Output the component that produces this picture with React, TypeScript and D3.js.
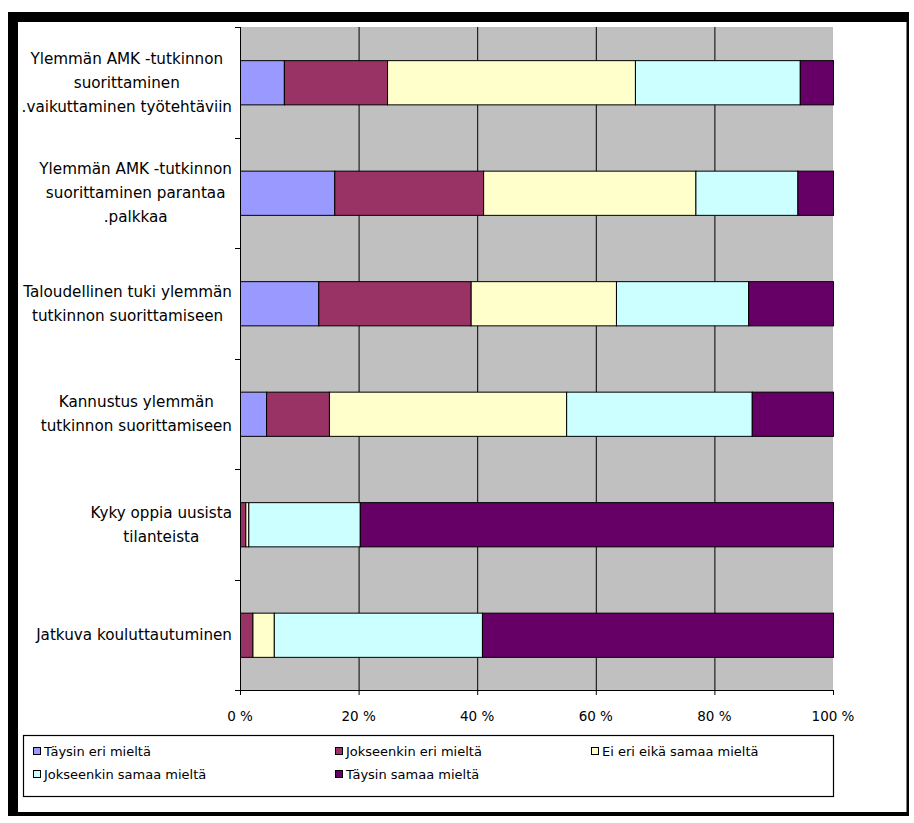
import React, { useEffect, useRef } from "react";
import * as d3 from "d3";

const categories: string[][] = [
  ["Ylemmän AMK -tutkinnon", "suorittaminen", ".vaikuttaminen työtehtäviin"],
  ["Ylemmän AMK -tutkinnon", "suorittaminen parantaa", ".palkkaa"],
  ["Taloudellinen tuki ylemmän", "tutkinnon suorittamiseen"],
  ["Kannustus ylemmän", "tutkinnon suorittamiseen"],
  ["Kyky oppia uusista", "tilanteista"],
  ["Jatkuva kouluttautuminen"],
];

const seriesNames = [
  "Täysin eri mieltä",
  "Jokseenkin eri mieltä",
  "Ei eri eikä samaa mieltä",
  "Jokseenkin samaa mieltä",
  "Täysin samaa mieltä",
];

const taysinEri = [7.4, 15.9, 13.2, 4.4, 0, 0];
const jokseenkinEri = [17.4, 25.1, 25.7, 10.6, 0.9, 2.1];
const eiEriEikaSamaa = [41.8, 35.8, 24.5, 40.0, 0.5, 3.6];
const jokseenkinSamaa = [27.8, 17.2, 22.3, 31.3, 18.8, 35.1];
const taysinSamaa = [5.6, 6.0, 14.3, 13.7, 79.8, 59.2];

const colors = ["#9999FF", "#993366", "#FFFFCC", "#CCFFFF", "#660066"];
const xTicks = [0, 20, 40, 60, 80, 100];

export default function App() {
  const ref = useRef<SVGSVGElement>(null);

  useEffect(() => {
    document.body.style.margin = "0";
    const svg = d3.select(ref.current);
    svg.selectAll("*").remove();

    const W = 914, H = 823;
    svg.append("rect").attr("width", W).attr("height", H).attr("fill", "#fff");

    // frame
    svg.append("rect").attr("x", 8).attr("y", 12).attr("width", 901).attr("height", 10).attr("fill", "#000");
    svg.append("rect").attr("x", 8).attr("y", 12).attr("width", 10).attr("height", 804).attr("fill", "#000");
    svg.append("rect").attr("x", 906.5).attr("y", 12).attr("width", 2.5).attr("height", 804).attr("fill", "#000");
    svg.append("rect").attr("x", 8).attr("y", 812).attr("width", 901).attr("height", 4).attr("fill", "#000");

    const left = 240, right = 833, top = 27, bottom = 690;
    const x = d3.scaleLinear().domain([0, 100]).range([left, right]);
    const idx = categories.map((_, i) => String(i));
    const y = d3.scaleBand().domain(idx).range([top, bottom]).paddingInner(0.6).paddingOuter(0.3);

    // plot area
    svg.append("rect").attr("x", left).attr("y", top).attr("width", right - left).attr("height", bottom - top).attr("fill", "#C0C0C0");

    // gridlines
    svg.selectAll(".grid").data(xTicks.filter((t) => t > 0 && t < 100)).enter().append("line")
      .attr("x1", (d) => x(d) + 0.5).attr("x2", (d) => x(d) + 0.5)
      .attr("y1", top).attr("y2", bottom)
      .attr("stroke", "#000").attr("stroke-width", 1);

    // bars
    const series = [taysinEri, jokseenkinEri, eiEriEikaSamaa, jokseenkinSamaa, taysinSamaa];
    const table = categories.map((_, i) => {
      const row: any = { key: String(i) };
      series.forEach((s, k) => (row["s" + k] = s[i]));
      return row;
    });
    const stacked = d3.stack().keys(series.map((_, k) => "s" + k))(table);
    stacked.forEach((layer, k) => {
      svg.append("g").selectAll("rect").data(layer).enter().append("rect")
        .filter((d: any) => d[1] - d[0] > 0)
        .attr("x", (d: any) => x(d[0]) + 0.5)
        .attr("width", (d: any) => x(d[1]) - x(d[0]))
        .attr("y", (d: any) => (y(d.data.key) as number) + 0.5)
        .attr("height", y.bandwidth())
        .attr("fill", colors[k])
        .attr("stroke", "#000")
        .attr("stroke-width", 1);
    });

    // axes
    svg.append("line").attr("x1", left + 0.5).attr("x2", left + 0.5).attr("y1", top).attr("y2", bottom + 0.5).attr("stroke", "#000");
    svg.append("line").attr("x1", left).attr("x2", right + 0.5).attr("y1", bottom + 0.5).attr("y2", bottom + 0.5).attr("stroke", "#000");
    const step = y.step();
    for (let i = 0; i <= categories.length; i++) {
      const yy = Math.round(top + i * step) + 0.5;
      svg.append("line").attr("x1", left - 5).attr("x2", left).attr("y1", yy).attr("y2", yy).attr("stroke", "#000");
    }
    xTicks.forEach((t) => {
      svg.append("line").attr("x1", x(t) + 0.5).attr("x2", x(t) + 0.5).attr("y1", bottom).attr("y2", bottom + 5).attr("stroke", "#000");
      svg.append("text").attr("x", x(t)).attr("y", 721).attr("text-anchor", "middle")
        .attr("font-family", "DejaVu Sans").attr("font-size", 13.5).attr("fill", "#000")
        .text(`${t} %`);
    });

    // category labels
    const lineH = 24;
    const labelRight = 232;
    categories.forEach((lines, i) => {
      const cy = (y(String(i)) as number) + y.bandwidth() / 2;
      const g = svg.append("g");
      const texts = lines.map((l) =>
        g.append("text").attr("font-family", "DejaVu Sans").attr("font-size", 15.2).attr("fill", "#000").text(l)
      );
      const widths = texts.map((t) => (t.node() as SVGTextElement).getComputedTextLength());
      const maxW = Math.max(...widths);
      const centerX = labelRight - maxW / 2;
      texts.forEach((t, j) => {
        t.attr("x", centerX).attr("text-anchor", "middle")
          .attr("y", cy + (j - (lines.length - 1) / 2) * lineH + 5.5);
      });
    });

    // legend
    svg.append("rect").attr("x", 23.5).attr("y", 735.5).attr("width", 810).attr("height", 61)
      .attr("fill", "#fff").attr("stroke", "#000").attr("stroke-width", 1.2);
    const legendPos = [
      [33, 756], [335, 756], [591, 756],
      [33, 779], [335, 779],
    ];
    seriesNames.forEach((name, k) => {
      const [lx, ly] = legendPos[k];
      svg.append("rect").attr("x", lx + 0.5).attr("y", ly - 8.5).attr("width", 7).attr("height", 7)
        .attr("fill", colors[k]).attr("stroke", "#000").attr("stroke-width", 1);
      svg.append("text").attr("x", lx + 11).attr("y", ly).attr("font-family", "DejaVu Sans")
        .attr("font-size", 13).attr("fill", "#000").text(name);
    });
  }, []);

  return <svg ref={ref} width={914} height={823} style={{ display: "block" }} />;
}
